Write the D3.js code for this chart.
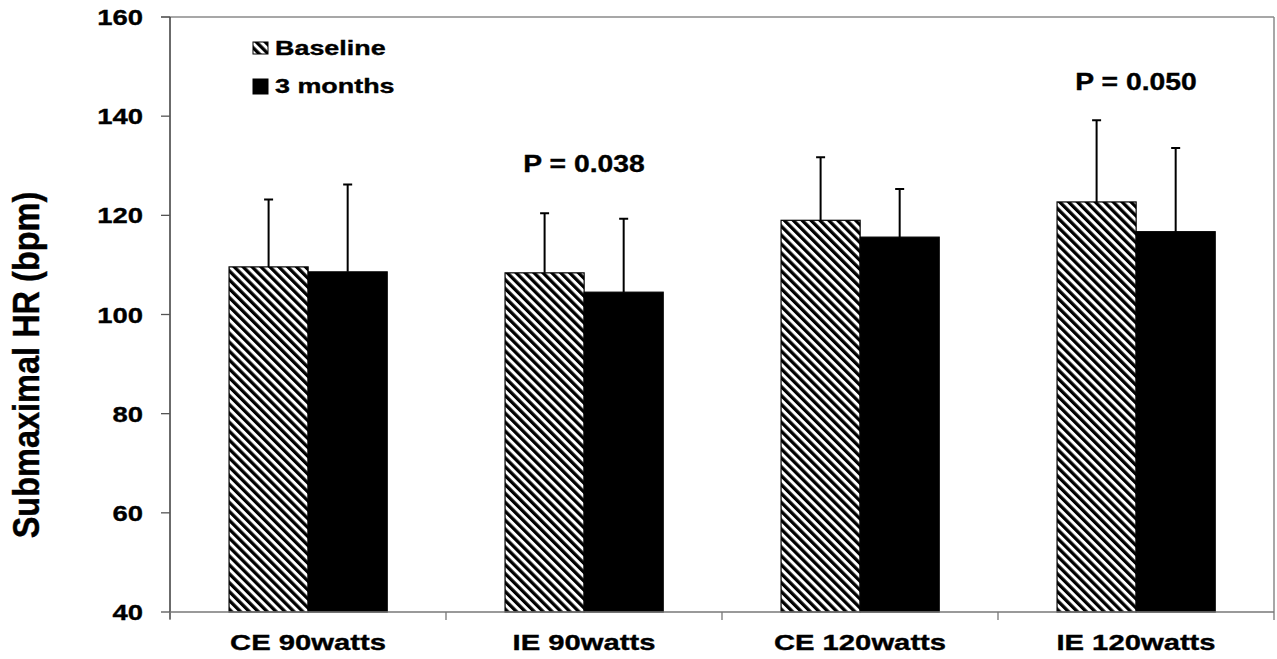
<!DOCTYPE html>
<html>
<head>
<meta charset="utf-8">
<script src="https://cdn.jsdelivr.net/npm/d3@7"></script>
<style>
  html, body { margin: 0; padding: 0; background: #fff; }
  svg text { font-family: "Liberation Sans", Arial, sans-serif; font-weight: bold; fill: #000; stroke: #000; stroke-width: 0.35px; }
</style>
</head>
<body>
<svg id="chart"></svg>
<script>
const W = 1277;
const H = 659;

// ── Data ──────────────────────────────────────────────────────────────────────

const categories = ['CE 90watts', 'IE 90watts', 'CE 120watts', 'IE 120watts'];
const series     = ['Baseline', '3 months'];

const baseline   = [109.6, 108.4, 119.0, 122.7];
const baselineSD = [13.6, 12.0, 12.7, 16.5];
const months3    = [108.6, 104.5, 115.6, 116.7];
const months3SD  = [17.6, 14.8, 9.7, 16.9];

const yTicks = [40, 60, 80, 100, 120, 140, 160];

const pNotes = [
  { cat: 'IE 90watts',  text: 'P = 0.038', at: 128.7 },
  { cat: 'IE 120watts', text: 'P = 0.050', at: 145.3 },
];

// ── Layout ────────────────────────────────────────────────────────────────────

const M = { left: 170, right: 1274, top: 17, bottom: 612 };

const svg = d3.select('#chart').attr('width', W).attr('height', H);

const defs = svg.append('defs');
const hatch = defs.append('pattern')
  .attr('id', 'hatch')
  .attr('patternUnits', 'userSpaceOnUse')
  .attr('width', 6.3).attr('height', 6.3)
  .attr('patternTransform', 'rotate(-45)');
hatch.append('rect').attr('width', 6.3).attr('height', 6.3).attr('fill', '#fff');
hatch.append('rect').attr('width', 3.3).attr('height', 6.3).attr('fill', '#000');

const fills = { 'Baseline': 'url(#hatch)', '3 months': '#000' };

const x = d3.scaleBand().domain(categories).range([M.left, M.right]).padding(0);
const bw = x.bandwidth();
const x1 = d3.scaleBand().domain(series).range([bw * 0.214, bw * 0.787]).padding(0);
const y = d3.scaleLinear().domain([40, 160]).range([M.bottom, M.top]);

const rows = categories.map((c, i) => ({
  cat: c,
  vals: [
    { s: 'Baseline', v: baseline[i], sd: baselineSD[i] },
    { s: '3 months', v: months3[i],  sd: months3SD[i] },
  ],
}));

// ── Frame ─────────────────────────────────────────────────────────────────────

svg.append('line')
  .attr('x1', M.left - 9).attr('x2', M.right)
  .attr('y1', M.top).attr('y2', M.top)
  .attr('stroke', '#8a8a8a').attr('stroke-width', 1.5);
svg.append('line')
  .attr('x1', M.right).attr('x2', M.right)
  .attr('y1', M.top).attr('y2', M.bottom)
  .attr('stroke', '#8a8a8a').attr('stroke-width', 1.5);

// ── Bars ──────────────────────────────────────────────────────────────────────

const groups = svg.append('g').selectAll('g')
  .data(rows)
  .join('g')
  .attr('transform', d => `translate(${x(d.cat)},0)`);

groups.selectAll('rect')
  .data(d => d.vals)
  .join('rect')
  .attr('x', d => x1(d.s))
  .attr('y', d => y(d.v))
  .attr('width', x1.bandwidth())
  .attr('height', d => y(40) - y(d.v))
  .attr('fill', d => fills[d.s])
  .attr('stroke', '#000')
  .attr('stroke-width', 1.2);

// error bars (upper only)
groups.selectAll('path.err')
  .data(d => d.vals)
  .join('path')
  .attr('class', 'err')
  .attr('d', d => {
    const cx = x1(d.s) + x1.bandwidth() / 2;
    const top = y(d.v + d.sd);
    return `M${cx},${y(d.v)}V${top}M${cx - 4.5},${top}H${cx + 4.5}`;
  })
  .attr('fill', 'none')
  .attr('stroke', '#000')
  .attr('stroke-width', 2);

// ── Axes ──────────────────────────────────────────────────────────────────────

const yAxis = svg.append('g');
yAxis.append('line')
  .attr('x1', M.left).attr('x2', M.left)
  .attr('y1', M.top).attr('y2', M.bottom + 7)
  .attr('stroke', '#3a3a3a').attr('stroke-width', 1.5);
yAxis.selectAll('line.tick')
  .data(yTicks)
  .join('line')
  .attr('class', 'tick')
  .attr('x1', M.left - 9).attr('x2', M.left)
  .attr('y1', d => y(d)).attr('y2', d => y(d))
  .attr('stroke', '#555').attr('stroke-width', 1.3);
yAxis.selectAll('text')
  .data(yTicks)
  .join('text')
  .attr('transform', d => `translate(143,${y(d)}) scale(1.22,1)`)
  .attr('text-anchor', 'end')
  .attr('dy', '0.36em')
  .style('font-size', '22.5px')
  .text(d => d);

const xAxis = svg.append('g');
xAxis.append('line')
  .attr('x1', M.left).attr('x2', M.right)
  .attr('y1', M.bottom).attr('y2', M.bottom)
  .attr('stroke', '#777').attr('stroke-width', 1.5);
xAxis.selectAll('line.tick')
  .data([...categories.map(c => x(c)), M.right])
  .join('line')
  .attr('class', 'tick')
  .attr('x1', d => d).attr('x2', d => d)
  .attr('y1', M.bottom).attr('y2', M.bottom + 8)
  .attr('stroke', '#777').attr('stroke-width', 1.3);
xAxis.selectAll('text')
  .data(categories)
  .join('text')
  .attr('transform', d => `translate(${x(d) + bw / 2},650) scale(1.3,1)`)
  .attr('text-anchor', 'middle')
  .style('font-size', '22.5px')
  .text(d => d);

// y title
svg.append('text')
  .attr('transform', 'translate(39,365) rotate(-90) scale(1,1.15)')
  .attr('text-anchor', 'middle')
  .style('font-size', '32.5px')
  .text('Submaximal HR (bpm)');

// ── P values ──────────────────────────────────────────────────────────────────

svg.append('g').selectAll('text')
  .data(pNotes)
  .join('text')
  .attr('transform', d => `translate(${x(d.cat) + bw / 2},${y(d.at)}) scale(1.23,1)`)
  .attr('text-anchor', 'middle')
  .style('font-size', '23px')
  .text(d => d.text);

// ── Legend ────────────────────────────────────────────────────────────────────

const legend = svg.append('g').selectAll('g')
  .data(series)
  .join('g')
  .attr('transform', (d, i) => `translate(253,${41 + i * 38})`);
legend.append('rect')
  .attr('width', 15).attr('height', d => d === 'Baseline' ? 12 : 15)
  .attr('y', d => d === 'Baseline' ? 1 : 0)
  .attr('fill', d => fills[d])
  .attr('stroke', '#000').attr('stroke-width', 1);
legend.append('text')
  .attr('transform', 'translate(22,14) scale(1.38,1)')
  .style('font-size', '19.5px')
  .text(d => d);
</script>
</body>
</html>
